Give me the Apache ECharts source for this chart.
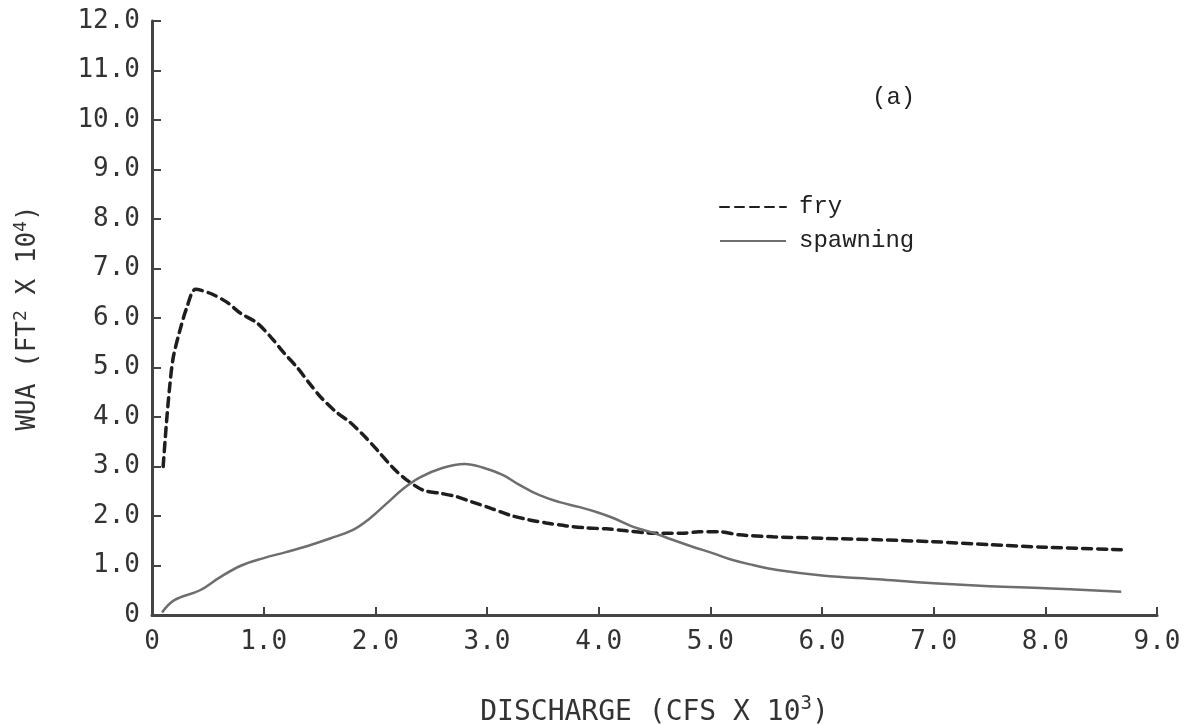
<!DOCTYPE html>
<html>
<head>
<meta charset="utf-8">
<title>WUA vs discharge</title>
<script src="https://cdn.jsdelivr.net/npm/echarts@6/dist/echarts.min.js"></script>
<style>
  html, body { margin: 0; padding: 0; background: #fff; }
  #chart { width: 1193px; height: 725px; }
</style>
</head>
<body>
<div id="chart"></div>
<script>
// discharge (cfs x 10^3) and WUA (ft^2 x 10^4)
const fryDischarge = [0.10, 0.13, 0.16, 0.19, 0.25, 0.31, 0.39, 0.52, 0.67, 0.79, 0.94, 1.07, 1.18, 1.30, 1.41, 1.52, 1.65, 1.77, 1.89, 2.01, 2.16, 2.28, 2.43, 2.58, 2.73, 2.87, 3.03, 3.20, 3.38, 3.53, 3.71, 3.89, 4.07, 4.25, 4.43, 4.75, 4.90, 5.08, 5.26, 5.56, 6.0, 6.5, 7.0, 7.5, 8.0, 8.68];
const fryWua = [3.0, 3.9, 4.65, 5.2, 5.75, 6.2, 6.58, 6.5, 6.32, 6.1, 5.9, 5.6, 5.3, 5.0, 4.68, 4.38, 4.1, 3.9, 3.64, 3.35, 2.97, 2.73, 2.52, 2.46, 2.39, 2.28, 2.16, 2.02, 1.92, 1.86, 1.80, 1.76, 1.74, 1.70, 1.66, 1.65, 1.68, 1.68, 1.62, 1.58, 1.55, 1.52, 1.48, 1.42, 1.37, 1.32];

const spawnDischarge = [0.09, 0.2, 0.43, 0.6, 0.8, 1.0, 1.2, 1.4, 1.6, 1.8, 1.95, 2.1, 2.25, 2.4, 2.6, 2.8, 2.96, 3.14, 3.29, 3.47, 3.65, 3.83, 3.98, 4.13, 4.31, 4.49, 4.66, 4.84, 5.02, 5.2, 5.38, 5.6, 6.0, 6.5, 7.0, 7.5, 8.0, 8.68];
const spawnWua = [0.05, 0.3, 0.5, 0.75, 1.0, 1.15, 1.27, 1.4, 1.55, 1.72, 1.95, 2.25, 2.55, 2.78, 2.97, 3.05, 2.98, 2.83, 2.63, 2.42, 2.28, 2.18, 2.08, 1.96, 1.78, 1.66, 1.52, 1.38, 1.25, 1.11, 1.01, 0.91, 0.8, 0.72, 0.64, 0.58, 0.54, 0.47];

const seriesNames = ['fry', 'spawning'];

const xTicks = [0, 1, 2, 3, 4, 5, 6, 7, 8, 9];
const yTicks = [0, 1, 2, 3, 4, 5, 6, 7, 8, 9, 10, 11, 12];

const plotFont = 'DejaVu Sans Mono';
const typeFont = 'Liberation Mono';
const inkColor = '#333';

function pairs(xs, ys) {
  return xs.map((x, i) => [x, ys[i]]);
}

function tickLabel(v) {
  return v === 0 ? '0' : v.toFixed(1);
}

const chart = echarts.init(document.getElementById('chart'), null, { renderer: 'canvas' });

const option = {
  backgroundColor: '#ffffff',
  animation: false,
  grid: {
    left: 152,
    right: 36,
    top: 21,
    bottom: 110,
    outerBoundsMode: 'none'
  },
  xAxis: {
    type: 'value',
    min: xTicks[0],
    max: xTicks[xTicks.length - 1],
    interval: 1,
    name: 'DISCHARGE (CFS X 10{sup|3})',
    nameLocation: 'middle',
    nameGap: 80,
    nameTextStyle: {
      fontFamily: plotFont,
      fontSize: 28,
      color: inkColor,
      rich: {
        sup: { fontFamily: plotFont, fontSize: 19, color: inkColor, verticalAlign: 'top', padding: [0, 0, 16, 0] }
      }
    },
    axisLine: { lineStyle: { color: '#444', width: 3 } },
    axisTick: { inside: true, length: 8, lineStyle: { color: '#444', width: 2 } },
    axisLabel: {
      margin: 14,
      fontFamily: plotFont,
      fontSize: 26,
      color: inkColor,
      formatter: tickLabel
    },
    splitLine: { show: false }
  },
  yAxis: {
    type: 'value',
    min: yTicks[0],
    max: yTicks[yTicks.length - 1],
    interval: 1,
    name: 'WUA (FT{sup|2} X 10{sup|4})',
    nameLocation: 'middle',
    nameRotate: 90,
    nameGap: 108,
    nameTextStyle: {
      fontFamily: plotFont,
      fontSize: 26,
      color: inkColor,
      rich: {
        sup: { fontFamily: plotFont, fontSize: 18, color: inkColor, verticalAlign: 'top', padding: [0, 0, 14, 0] }
      }
    },
    axisLine: { lineStyle: { color: '#444', width: 3 } },
    axisTick: { inside: true, length: 9, lineStyle: { color: '#444', width: 2 } },
    axisLabel: {
      margin: 12,
      fontFamily: plotFont,
      fontSize: 26,
      color: inkColor,
      formatter: tickLabel
    },
    splitLine: { show: false }
  },
  legend: {
    data: seriesNames,
    orient: 'vertical',
    left: 714,
    top: 190,
    itemWidth: 66,
    itemHeight: 14,
    itemGap: 10,
    itemStyle: { opacity: 0 },
    textStyle: {
      fontFamily: typeFont,
      fontSize: 24,
      color: '#222',
      padding: [0, 0, 0, 8]
    }
  },
  graphic: [{
    type: 'text',
    left: 872,
    top: 86,
    style: {
      text: '(a)',
      font: '24px "Liberation Mono"',
      fill: '#222'
    }
  }],
  series: [
    {
      name: seriesNames[0],
      type: 'line',
      data: pairs(fryDischarge, fryWua),
      symbol: 'none',
      smooth: 0.3,
      lineStyle: { color: '#1e1e1e', width: 3.5, type: [9, 6], cap: 'round' },
      itemStyle: { color: '#1e1e1e' }
    },
    {
      name: seriesNames[1],
      type: 'line',
      data: pairs(spawnDischarge, spawnWua),
      symbol: 'none',
      smooth: 0.4,
      lineStyle: { color: '#6e6e6e', width: 2.5 },
      itemStyle: { color: '#6e6e6e' }
    }
  ]
};

chart.setOption(option);
window.addEventListener('resize', () => chart.resize());
</script>
</body>
</html>
